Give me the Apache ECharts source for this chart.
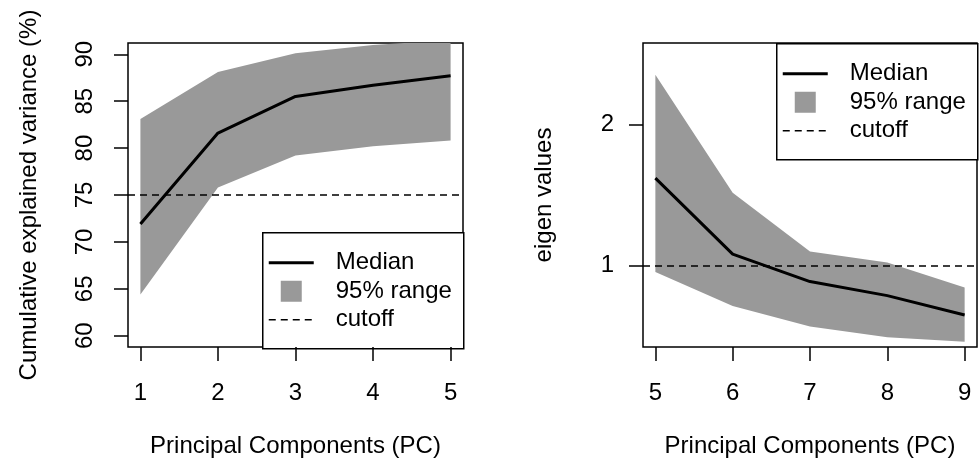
<!DOCTYPE html>
<html>
<head>
<meta charset="utf-8">
<script src="https://cdn.jsdelivr.net/npm/echarts@6/dist/echarts.min.js"></script>
<style>
  html, body { margin: 0; padding: 0; background: #fff; }
  #chart { width: 979px; height: 463px; }
</style>
</head>
<body>
<div id="chart"></div>
<script>
// left panel: cumulative explained variance
const leftPC = [1, 2, 3, 4, 5]
const leftMedian = [71.9, 81.6, 85.5, 86.7, 87.7]
const leftLower = [64.4, 75.8, 79.2, 80.2, 80.8]
const leftUpper = [83.1, 88.1, 90.1, 91.0, 91.5]
const leftCutoff = 75
const leftXTicks = [1, 2, 3, 4, 5]
const leftYTicks = [60, 65, 70, 75, 80, 85, 90]

// right panel: eigen values
const rightPC = [5, 6, 7, 8, 9]
const rightMedian = [1.62, 1.08, 0.885, 0.785, 0.647]
const rightLower = [0.953, 0.712, 0.566, 0.489, 0.458]
const rightUpper = [2.355, 1.516, 1.098, 1.02, 0.843]
const rightCutoff = 1
const rightXTicks = [5, 6, 7, 8, 9]
const rightYTicks = [1, 2]

const legendLabels = ['Median', '95% range', 'cutoff']

const FONT = 'Liberation Sans, Arial, sans-serif'
const GREY = '#999999'

const chart = echarts.init(document.getElementById('chart'))

const xAxisOf = (gridIndex, min, max, ticks) => ({
  type: 'value',
  gridIndex,
  min,
  max,
  name: 'Principal Components (PC)',
  nameLocation: 'middle',
  nameGap: 87,
  nameTextStyle: { fontFamily: FONT, fontSize: 24, color: '#000' },
  axisLine: { show: false, onZero: false },
  axisTick: { show: true, length: 14, inside: false, customValues: ticks, lineStyle: { color: '#000', width: 1.5 } },
  axisLabel: { customValues: ticks, margin: 34, fontFamily: FONT, fontSize: 24, color: '#000' },
  splitLine: { show: false }
})

const yAxisOf = (gridIndex, min, max, ticks, name, rotate, margin) => ({
  type: 'value',
  gridIndex,
  min,
  max,
  name,
  nameLocation: 'middle',
  nameRotate: 90,
  nameGap: 87,
  nameTextStyle: { fontFamily: FONT, fontSize: 24, color: '#000' },
  axisLine: { show: false, onZero: false },
  axisTick: { show: true, length: 14, inside: false, customValues: ticks, lineStyle: { color: '#000', width: 1.5 } },
  axisLabel: { customValues: ticks, rotate, margin, fontFamily: FONT, fontSize: 24, color: '#000' },
  splitLine: { show: false }
})

// 95% band as one polygon: upper edge left->right, lower edge right->left
const bandSeries = (idx, xs, lo, hi, median, cutoff) => [
  {
    type: 'custom',
    xAxisIndex: idx,
    yAxisIndex: idx,
    data: xs.map((x, i) => [x, lo[i], hi[i]]),
    encode: { x: 0, y: [1, 2] },
    silent: true,
    z: 1,
    renderItem (params, api) {
      if (params.dataIndex !== 0) return null
      const top = xs.map((x, i) => api.coord([x, hi[i]]))
      const bottom = xs.map((x, i) => api.coord([x, lo[i]])).reverse()
      const cs = params.coordSys
      return {
        type: 'polygon',
        shape: { points: top.concat(bottom) },
        style: { fill: GREY },
        clipPath: { type: 'rect', shape: { x: cs.x, y: cs.y, width: cs.width, height: cs.height } }
      }
    }
  },
  {
    type: 'line',
    xAxisIndex: idx,
    yAxisIndex: idx,
    data: xs.map((x, i) => [x, median[i]]),
    symbol: 'none',
    lineStyle: { color: '#000', width: 3 },
    silent: true,
    z: 3,
    markLine: {
      silent: true,
      symbol: ['none', 'none'],
      label: { show: false },
      lineStyle: { color: '#000', width: 1.5, type: [7, 5] },
      data: [{ yAxis: cutoff }]
    }
  }
]

// legend box like R's legend()
const legendBox = (left, top) => ({
  type: 'group',
  left,
  top,
  z: 100,
  children: [
    { type: 'rect', shape: { x: 0, y: 0, width: 201, height: 116 }, style: { fill: '#fff', stroke: '#000', lineWidth: 1.5 } },
    { type: 'line', shape: { x1: 6, y1: 30, x2: 51, y2: 30 }, style: { stroke: '#000', lineWidth: 3 } },
    { type: 'rect', shape: { x: 18, y: 48, width: 21, height: 21 }, style: { fill: GREY } },
    { type: 'line', shape: { x1: 6, y1: 87, x2: 51, y2: 87 }, style: { stroke: '#000', lineWidth: 1.5, lineDash: [7, 5] } },
    ...legendLabels.map((t, i) => ({
      type: 'text',
      x: 73,
      y: [30, 58.5, 87][i],
      style: { text: t, font: '24px ' + FONT, fill: '#000', verticalAlign: 'middle' }
    }))
  ]
})

const option = {
  animation: false,
  backgroundColor: '#fff',
  grid: [
    { left: 128, top: 43, width: 335, height: 305, show: true, borderColor: '#000', borderWidth: 1.5, backgroundColor: 'transparent', containLabel: false },
    { left: 643, top: 43, width: 334, height: 305, show: true, borderColor: '#000', borderWidth: 1.5, backgroundColor: 'transparent', containLabel: false }
  ],
  xAxis: [
    xAxisOf(0, 0.84, 5.16, leftXTicks),
    xAxisOf(1, 4.84, 9.16, rightXTicks)
  ],
  yAxis: [
    yAxisOf(0, 58.8, 91.2, leftYTicks, 'Cumulative explained variance (%)', 90, 31),
    yAxisOf(1, 0.42, 2.58, rightYTicks, 'eigen values', 0, 29)
  ],
  series: [
    ...bandSeries(0, leftPC, leftLower, leftUpper, leftMedian, leftCutoff),
    ...bandSeries(1, rightPC, rightLower, rightUpper, rightMedian, rightCutoff)
  ],
  graphic: [legendBox(262, 232), legendBox(776, 43)]
}

chart.setOption(option)
</script>
</body>
</html>
